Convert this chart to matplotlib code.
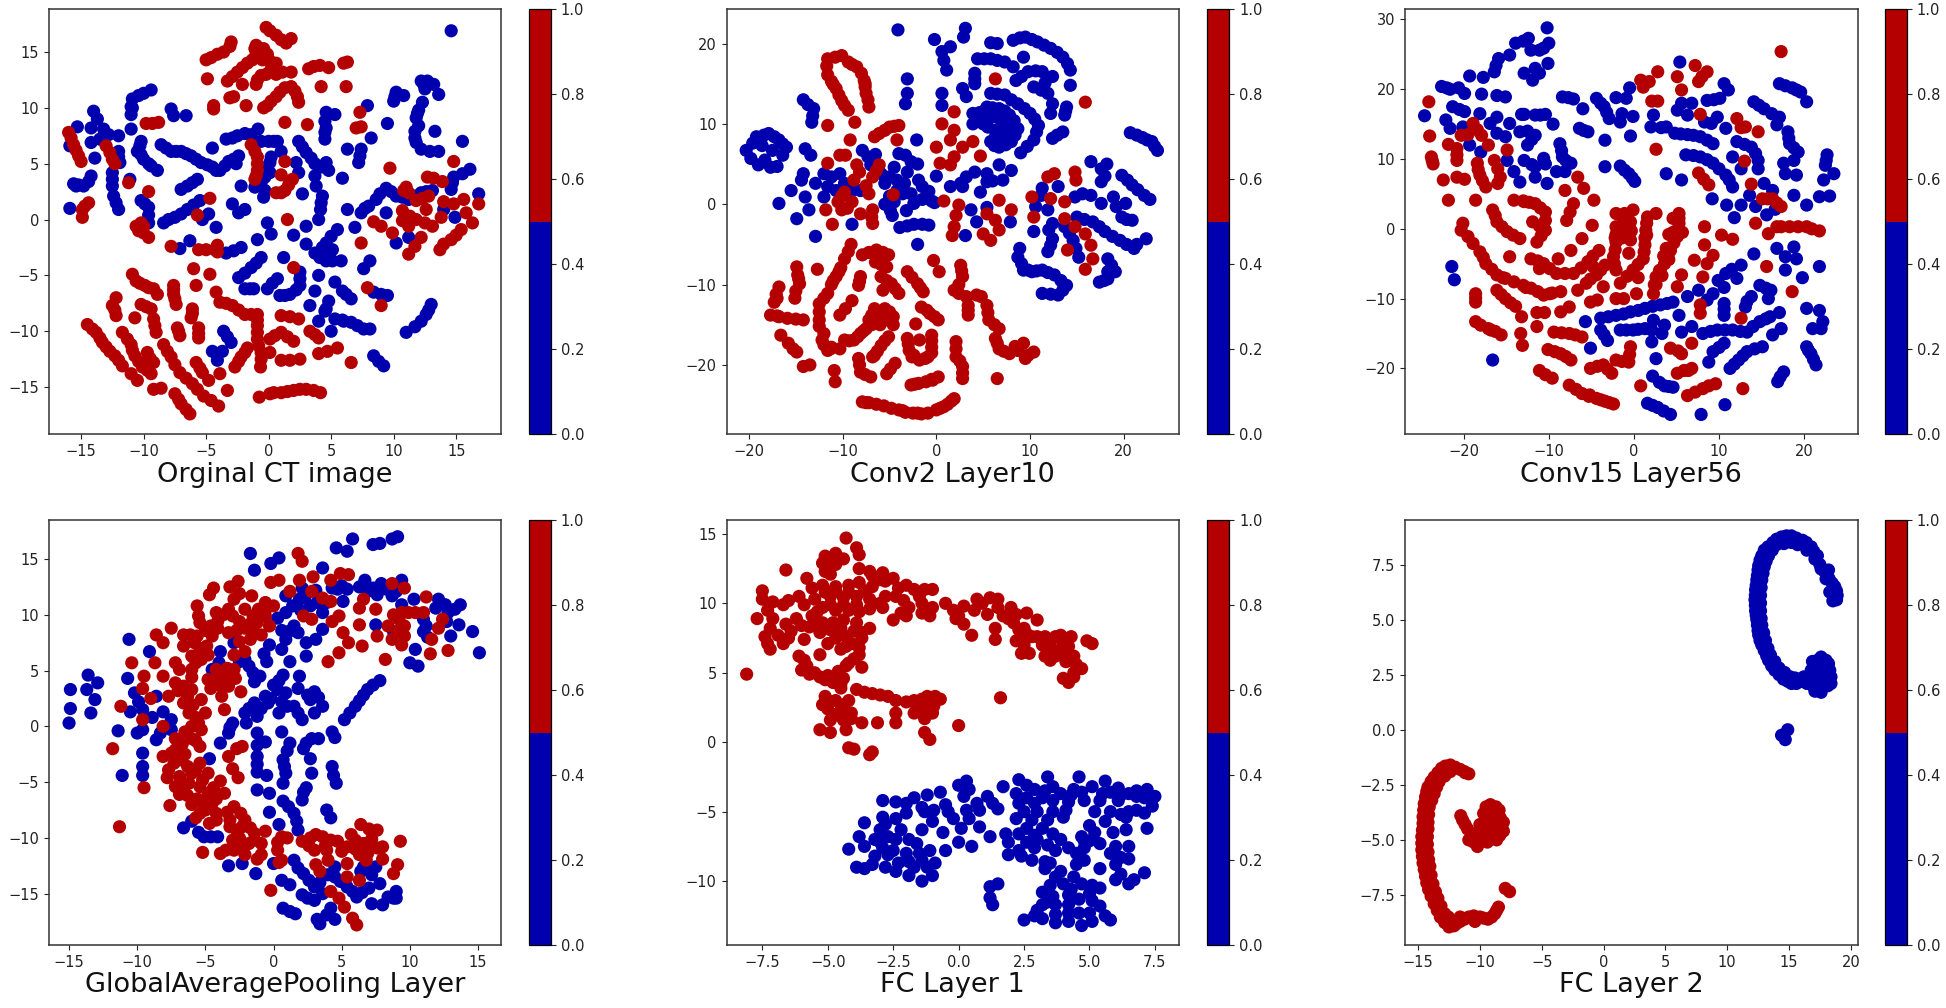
import numpy as np
import matplotlib
matplotlib.use("Agg")
import matplotlib.pyplot as plt
from matplotlib.colors import ListedColormap
from matplotlib.cm import ScalarMappable
from matplotlib.colors import Normalize

TITLES = ["Orginal CT image", "Conv2 Layer10", "Conv15 Layer56",
          "GlobalAveragePooling Layer", "FC Layer 1", "FC Layer 2"]
CLASS_COLORS = ["#0000AE", "#B40000"]

P1_BLUE = [(14.6,16.9),(-15.9,1),(-15.9,6.6),(-15.3,8.3),(-14,9.7),(-13.7,9),(-13.2,8.1),(-14.2,8.2),(-14.2,6.9),(-13.5,7.2),(-12.8,7.6),(-12,7.5),(-13.9,5.5),
(-15.6,3.2),(-15.2,3.1),(-14.8,3),(-14.4,3.4),(-14.2,3.9),(-12,6.1),(-11.9,5.1),(-12,5.6),(-12.5,4.2),(-12.5,3.6),(-12.5,3),(-12.4,2.1),(-12.2,1.5),(-12,.9),(-11.1,3.6),
(-11,9.4),(-10.9,10.8),(-10.4,11.1),(-10,11.3),(-9.4,11.6),(-11,8.1),(-7.8,9.9),(-7.6,9.3),(-6.6,9.3),(-10.2,7),(-10.5,6.1),(-10,5.4),(-9.4,4.8),(-8.9,4.4),
(-8.6,6.7),(-8.2,6.4),(-7.8,6.1),(-7,6.1),(-6.6,5.9),(-6.2,5.7),(-5.8,5.4),(-5.4,5.1),(-4.9,4.9),(-4.5,4.7),(-3.9,4.4),(-3.5,4.8),(-3.2,5.2),(-2.8,5.4),(-2.4,5.7),(-2.6,5),
(-7,2.7),(-6.5,3),(-6.1,3.3),(-5.7,3.6),(-4.5,6.4),(-3.4,7.2),(-2.9,7.3),(-2.5,7.5),(-1.9,7.7),(-.85,8.1),(-.6,7),(0,7),(.7,7),(1,6.1),
(.1,5.1),(.1,4.2),(-.3,3.8),(-.6,3.3),(-.4,2),(-2.2,3),(-1.1,2.9),(2.4,7),(2.7,6.5),(3,6),(3.4,5.5),(3.7,5),(2.2,5.1),(2.4,4.2),(3.7,3.9),(3.8,3),(4.6,5.1),(4.8,4.4),(4.2,4.7),
(4.5,7.2),(4.6,8.2),(4.6,9.6),(5.3,9.4),(6.3,6.3),(7.4,6.3),(7.2,5.1),(7.3,5.7),(8.2,7.3),(7.9,10.2),(5.9,3.7),(2.7,2.3),(4.3,2.1),(4.15,.9),(4.2,1.5),(9.5,8.6),
(10,10.6),(10.2,11.4),(10.8,11.1),(12.2,12.4),(12.7,12.4),(13.2,12.1),(13.6,11.2),(12.5,11.7),(12.3,10.5),(11.8,9.1),(12,9.8),(11.7,7.9),(11.8,6.9),(12.2,6.3),(12.9,6.1),(13.6,6.1),(13.3,7.9),(15.5,7),
(14.8,3.8),(15.5,4.1),(16.1,4.5),(14.6,2.7),(16.8,2.3),(7.4,.6),(8,1.2),(8.6,1.8),(9.4,2.8),(10.2,2.1),(11.2,1.8),(12.2,2.4),(13.1,2.6),(9.4,.6),(14,.9),(14.9,.2),
(6.3,.9),(6.9,-.7),(10.2,-2.1),(11.2,-1.6),(-.1,-.3),(.2,-1.3),(-.9,-1.8),(2,-1.4),(3,-.6),(4,0),(3,-2.2),(3.7,-3),(4.6,-3.7),(5.8,-3.7),(4.6,-2.1),(5.5,-.9),(5,-1.5),(4.3,-2.5),(5.1,-2.7),
(8.1,-3.7),(7.6,-4.4),(-2.2,-2.5),(-2.8,-2.8),(-3.4,-3),(-7.1,-2.6),(-6.3,-1.9),(-10.2,1.7),(-9.6,1.1),(-9.6,-.3),(-9.6,.4),(-8.4,-.3),(-7.5,.2),(-8,0),(-6.5,.9),(-7,.5),(-6,1.3),(-5.5,1.7),(-4.8,.5),(-5.3,0),(-4.2,-.7),
(-2.9,1.4),(-2.4,.6),(-1.9,.9),(-.6,-3.4),(-1,-3.9),(-1.4,-4.3),(-1.9,-4.8),(-2.4,-5.2),(1.2,-3.4),(4,-5),(2.5,-4.7),(2.5,-5.3),(2.5,-5.9),(1.7,-6.7),(.9,-6.8),(.7,-5.3),(-.1,-6.2),(.3,-5.7),(-1.2,-6.2),(-1.9,-6.2),
(5.3,-5.6),(5.9,-6.4),(6.6,-7.1),(3.7,-6.4),(3.3,-7.7),(4.8,-7.3),(4.5,-8.2),(4,-9.1),(5.3,-8.9),(6,-9.1),(6.6,-9.2),(7.6,-9.8),(8.1,-9.8),(5,-10),(8.4,-6.5),(9.5,-6.8),(9,-6.7),
(13,-7.6),(12.6,-8.5),(12.2,-9.1),(11,-10.1),(8.4,-12.2),(8.8,-12.7),(9.2,-13.1),(-3.6,-10),(-3,-11),(-4.5,-11.8),(-3.7,-11.8),(-4.1,-12.6),
(-15.4,3),(-9.6,5),(-10.3,6.6),(-10.2,5.8),(-7.4,6.1),(-11,10.1),(-10.9,10),(-4.2,4.4),(-1.4,7.6),(.4,7),(-.1,4.7),(.2,5.6),(-.3,2.6),(4.5,7.8),(4.5,8.8),(10.1,11),(11.9,9.5),(12.4,12.1),(12,8.4),(11.7,7.3),(14.7,3.3),(8.9,2.3),(9.8,2.5),(10.7,2),(11.7,2.1),(12.6,2.5),(7.7,1),(-9.9,1.4),(4.1,-3.4),(5.1,-3.7),(4.9,-2.9),(-1.5,-6.2),(2.2,-6.3),(1.3,-6.8),(6.2,-6.7),(4.6,-8),(5.9,-9),(7.1,-9.5),(12.8,-8.1),(11.7,-9.6),(-3.3,-10.5)]

P1_RED = [(-.2,17.2),(.1,16.9),(.6,16.5),(1,16.1),(1.4,15.8),(1.8,16.2),(-5,14.3),(-4.6,14.5),(-4.1,14.8),(-3.6,15),(-3.1,15.5),(-3,15.9),(-4.9,12.6),
(-3.3,12.4),(-2.9,12.8),(-2.5,13.2),(-2.1,13.6),(-1.7,14),(-1.3,14.3),(-1,14.8),(-1.1,15.3),(-1,15.6),(-.4,15.3),(-.1,14.8),(-.5,14.3),(.1,14.2),(.6,14),(.2,13.5),(.6,13),(1.1,13.2),(1.8,13.2),
(-.9,12.5),(-.6,12.9),(-.2,13),(-2.1,12.1),(-1,12.1),(-3.1,10.9),(-2.8,11),(-1.8,10.2),(-4.4,9.9),(-4.4,10.2),(-.4,10),(-.1,10.2),(.2,10.6),(.6,11),(.9,11.4),(1.3,11.8),(1.8,11.9),(2.1,11.5),(2.3,11),(2.4,10.5),
(3.2,13.5),(3.6,13.7),(4.1,13.8),(4.8,13.6),(6.3,14.1),(6,14),(4.2,11.9),(6.2,11.9),(1.3,8.7),(3.1,8.5),(7.3,9.6),(7,8.2),(7.4,8.3),
(-16,7.8),(-15.8,7.3),(-15.6,6.7),(-15.4,6.2),(-15.2,5.7),(-15,5.2),(-13,6.6),(-12.7,6),(-12.5,5.4),(-12.3,5),(-9.8,8.6),(-9.3,8.6),(-8.8,8.7),(-11.2,3.3),(-9.6,2.5),(-14.4,1.5),(-14.7,1.2),(-14.9,.9),(-14.9,.2),
(-10.6,-.6),(-10.2,-.3),(-10,-.6),(-10.4,-1),(-10,-1.2),(-9.6,-1.6),(-5.7,.4),(-4.7,1.9),(-7.8,-2.4),(-5.6,-2.7),(-5,-2.7),(-4.3,-2.7),(-4.1,-2.3),(-4.1,-2.9),
(-1.4,6.7),(-1.1,6.1),(-.9,5.6),(-.9,5),(-.9,4.4),(-1,3.9),(-1.1,3.6),(1.3,5.2),(1,4),(1.9,3.6),(1.6,3.1),(1.3,2.6),(1,2.4),(.6,2.4),(1.5,0),(9.7,4.6),(14.8,5.2),
(11,2.9),(10.8,2.6),(11.2,2.4),(12.7,3.8),(13.2,3.7),(13.9,3.4),(11.8,1.7),(12.8,2.1),(12.3,1.9),(14,1.6),(14.8,1.4),(15.6,1.8),(16.8,1.4),(15.8,.6),(16.3,-.3),(15.4,-.9),(14.6,-1.8),(15,-1.4),(13.7,-2.7),(14,-2.2),
(8.4,-.2),(9,-.6),(9.9,-1.2),(10.7,.8),(10.7,-.1),(11.2,-.6),(11.8,0),(12.6,.9),(12.5,-.3),(13.1,-.6),(13.8,.2),(12.2,-1.6),(11.7,-2.4),(11.2,-3.1),(11.3,.3),(7.4,-2.1),(2,-4.3),(7.9,-6.1),(9,-7.7),
(-10.9,-4.9),(-10.6,-5.5),(-9.9,-5.9),(-9.2,-6.2),(-8.9,-6.7),(-12.2,-7),(-12.5,-7.7),(-12.2,-8.6),(-10.7,-8.8),(-10.2,-7.6),(-9.4,-8),(-9.2,-8.9),(-9,-10.1),(-9.1,-9.5),
(-7.6,-5.9),(-7.6,-6.7),(-7.4,-7.6),(-6.1,-8),(-6.2,-8.8),(-7.3,-9.7),(-7.1,-10.4),(-5.6,-9.7),(-5.6,-10.6),(-6,-4.4),(-4.7,-4.9),(-5.8,-5.9),
(-14.5,-9.4),(-14.1,-9.8),(-13.8,-10.1),(-13.5,-10.6),(-13.3,-11),(-13,-11.4),(-12.7,-11.8),(-12.3,-12.2),(-12,-12.6),(-11.7,-13.1),(-11,-13.8),(-10.5,-14.4),
(-11.7,-10.1),(-11.3,-10.7),(-11,-11.2),(-10.9,-11.7),(-10.7,-12.2),(-10.4,-12.7),(-10.1,-13.2),(-9.7,-13.5),(-9.4,-13.8),(-9.2,-12.8),(-9.7,-11.9),(-9.5,-12.4),
(-8.4,-11.2),(-8.1,-11.8),(-7.8,-12.3),(-7.5,-13),(-7.1,-13.7),(-6.6,-14.2),(-6.1,-14.7),(-5.7,-15.2),(-5.2,-15.8),(-4.6,-16.2),(-4,-16.7),(-9.2,-15.2),(-8.6,-15.1),(-7.5,-15.6),(-7.2,-16.1),(-7,-16.5),(-6.6,-17),(-6.3,-17.4),
(-5.8,-12.8),(-5.5,-13.3),(-5.3,-13.7),(-4.8,-14.4),(-3.9,-13.8),(-3.3,-15.3),(-2.7,-13.2),(-2.4,-12.7),(-2.2,-12.3),(-1.9,-11.9),(-1.7,-11.5),
(-4.2,-6.5),(-3.9,-7.4),(-2.9,-7.7),(-2.4,-8.1),(-1.9,-8.5),(-.9,-8.5),(-.9,-9.5),(-.9,-10.7),(-.8,-11.3),(-.6,-11.9),(-.65,-13.2),(-.6,-12.5),(.1,-11.9),(.1,-10.7),(.5,-10.4),(1,-10.1),(1.5,-10.5),(2,-10.9),
(1,-8.6),(1.7,-8.7),(2.4,-8.9),(3.3,-10),(3.7,-10.3),(4,-10.6),(1,-12.6),(1.7,-12.6),(2.5,-12.5),(4,-12),(4.7,-11.8),(5.5,-11.5),(6.6,-12.8),(-.75,-15.9),(.1,-15.6),(1,-15.5),(1.5,-15.4),(2,-15.3),(3,-15.2),(3.6,-15.3),(4.15,-15.5),
(-3.4,-7.5),(-1.4,-8.5),(-.9,-9),(-.9,-10.1),(-7.6,-6.3),(-7.5,-7.1),(-6.1,-8.4),(-9.6,-6.1),(-10.3,-5.7),(-12.3,-8.1),(-9.8,-7.8),(-7.2,-10),(-5.6,-10.2),(.4,-15.5),(2.5,-15.2)]

P2_BLUE = [(-4.1,21.7),(-.2,20.5),(3.1,21.9),(2.9,20.8),(.6,19),(1.5,19.6),(.8,17.9),(1.1,16.7),(5.8,20.1),(6.5,20),(8.2,20.4),(9.5,20.8),(10.8,20.2),(12.2,19.4),(13.5,18.3),(14,17.5),(14.3,16.7),(14.3,14.8),
(4.4,18.1),(5.8,18.1),(6.5,17.9),(7.3,17.7),(8.2,17.1),(9.3,18.3),(4.1,16.3),(4.1,15),(8.5,15.4),(9.8,16.5),(11.3,16.5),(12.4,15.9),(10.4,14.6),(11.2,14.2),(11.9,13.8),(12.4,12.5),
(2.8,14.4),(3.2,13.4),(.6,13.8),(.6,12.3),(5.8,13.8),(7.3,13.6),(8.7,12.5),(10,11.3),(10.9,9.8),(10.4,8),(9,6.4),(13.9,12.1),(13.7,11.1),(12.2,11.3),(13.5,9),(12.4,8.2),
(3.9,11.3),(3.9,10),(5.4,12.1),(6.7,11.9),(7.8,11.1),(8.7,9.4),(8,7.8),(6.7,7.1),(5.8,7.8),(5.4,10.7),(6.7,10.7),(7.6,9.4),(6.9,8.6),(5,10),(6.3,9.2),(4.6,11.4),(8.3,10.4),(8.4,8.6),
(-3.1,15.6),(-3.1,13.8),(-3.3,12.5),(-14.2,13),(-13.1,11.9),(-13.3,10.2),(-20.3,6.7),(-19.2,8.4),(-17.9,8.8),(-16.8,8),(-16,7.1),(-16.4,6.1),(-18.6,7.3),(-17.5,6.7),(-19,4.9),(-17.7,4.6),(-17,4.7),(-14,6.9),(-13.4,6.1),
(-16.8,.1),(-15.5,1.7),(-14.9,-1.8),(-12.9,-4),(-14.2,3.8),(-14.4,3),(-14,.9),(-13.6,-.7),
(-12.9,2.6),(-12,3.8),(-11.2,3.4),(-10.3,3.8),(-11.6,2.2),(-10.7,1.7),(-12,.9),(-9.8,2.6),(-9,1.7),(-8.1,1.7),(-7.9,6.7),(-7.3,5.9),(-6.5,6.2),(-7,4.9),
(-5.9,3.8),(-5.5,2.6),(-5,3.4),(-4.5,4.6),(-4.2,3),(-4.2,1.7),(-5,1),(-5.5,0),(-4.9,-.8),(-4.5,.3),(-3.6,1.3),(-3.4,2.6),(-3.1,4),(-2.7,5.3),(-3.3,6.1),(-4,6.3),(-2,5),(-1.9,3),(-1.5,2.2),(-2.7,1.3),(-2.4,.1),(-1.5,.6),(-.8,1.6),(-.5,.4),(-.2,.2),(-3.2,-.8),(-4.7,-1.4),
(-3.9,-2.9),(-3.1,-2.7),(-2.4,-2.5),(-1.5,-2.5),(-.8,-2.6),(-9,-2.5),(-2,-5),(-2.1,8),(0,3.5),
(1.5,2.2),(2.6,2.6),(3.2,3.4),(4.1,4),(2.8,2.2),(5.4,3.8),(5.4,2.8),(4.7,1.5),(6.7,4.9),(8,4.2),(7.1,3),(6,2.9),(3.7,-.7),(4.3,-2.2),(3.1,-3.9),(7.9,-2.2),(5.4,-.4),
(16.5,5.3),(17.6,4.4),(17.6,2.8),(15.6,1.3),(14.8,.9),(19.8,3.6),(20.9,2.4),(21.5,1.8),(22.2,1.1),(22.8,.6),(20.7,8.9),(22,8.3),(23,7.8),(23.6,6.7),
(17.6,.1),(18.9,.9),(20.2,.1),(19.8,-1.6),(20.9,-2),(15,-1.6),(16.7,-2.2),(18,-3.4),(18.8,-4),(19.6,-4.5),(21.1,-5.5),(22.4,-4.3),
(11.3,2),(13,2.2),(10.6,-.3),(11.9,-.7),(12.4,-2.4),(10.4,-3.4),(12.4,-4.3),(11.9,-5.9),(13.7,-2.8),(14.6,-4.5),(15.2,-6.6),(8.9,-5.5),(8.7,-6.6),(9.3,-8.2),(11.3,-8.2),(10.2,-8.4),(12.6,-8.8),(13.9,-10.1),(13,-11.3),(11.3,-11.1),(18.3,-6.8),(19.1,-8.4),(17.4,-9.7),(18.3,-9.3),
(4.4,10.7),(5.1,11.6),(6,12),(7.3,11.6),(8.3,9.9),(7.9,8.5),(7.4,7.4),(6.2,7.3),(6.1,10.9),(7.2,10.1),(7.4,8.9),(6.3,8.4),(5.5,9.6),(9.4,11.9),(10.5,10.6),(10.7,9),(9.7,7.2),(6.5,13.7),(8,13),(11.6,15.1),(10.6,16.6),(9.1,15.9),(5.1,18.1),(8.9,20.7),(10.2,20.5),(11.5,19.8),(12.9,18.9),(4.1,15.6),(13.8,11.6),(12.9,8.6),(-18.4,8.6),(-17.3,8.4),(-16.4,7.5),(-13.7,12.4),(-13.2,11),(-19.6,7.6),(-19.8,5.7),(-18.3,5.5),
(18.2,5),(18,3.5),(16.5,1.1),(20.4,3),(21.4,8.6),(22.5,8),(23.3,7.2),(21.4,-5),(20.3,-5),(17.4,-2.8),(15.8,-1.9),(20.3,-1.9),(9.1,-7.4),(9.8,-8.2),(10.7,-8.3),(11.9,-8.5),(13.3,-9.5),(12.2,-11.2),(13.5,-10.7),(18.7,-7.6),(17.9,-9.5),(12,-3.2),(11.2,1.1),(12.2,-5.1),(14.2,-3.6),(14.9,-5.5),(18.3,-8.4),(19.2,-.3)]

P2_RED = [(-11.6,18.1),(-10.1,18.5),(-8.5,17.1),(-9.4,17.7),(-11.6,16.1),(-11.2,15.3),(-10.7,14.4),(-10.1,12.9),(-9.8,12.3),(-9.4,11.7),(-7.7,15.4),(-7.5,13.8),(-7.2,12.1),(-7.6,14.6),(-7.3,13),
(-11.6,9.8),(-8.7,10.2),(-9.2,8),(-6.1,8.8),(-5,9.6),(-4,9.8),(-4.2,8),(-10.3,6.1),(-11.6,5.1),(-8.5,4.9),(-8.8,3),(-6.1,4.9),(-6.8,3.4),(-7.2,1.3),(-4.6,1.2),
(-9.8,1.5),(-10.5,.3),(-11.8,-.7),(-9,.3),(-8.1,-1.2),(-6.8,-.7),(-6.8,-2.4),(-11.1,-2.5),(-10.1,-.7),(.6,10),(1.9,11.5),(1.9,9.2),(1.5,8),(0,7.1),(3.9,7.8),(2.8,7.1),(1.9,5.9),(.4,5.1),(1.5,4.9),(4.7,6),
(6.3,15.6),(15.9,12.7),(11.9,3.4),(12.6,3.8),(14.8,4),(14.9,3),(10.2,.9),(12.2,.7),(13.7,.3),(10.4,-1.6),(13.7,-1.8),(14.8,-2.8),(15.9,-3.7),(16.5,-5.1),(14,-5.7),(16.7,-6.8),(15.9,-8.1),
(.8,.4),(2.4,-.1),(2.1,-1.4),(1.9,-2.8),(1.7,-3.9),(6.7,.5),(8,-.7),(5.4,-1.2),(6.3,-2),(6.7,-3.2),(5.8,-4.5),(5,-3.7),
(-9.1,-5),(-9.8,-6.8),(-10.2,-7.9),(-10.7,-9),(-11.2,-10),(-11.6,-11.1),(-12.5,-12.4),(-12.5,-14.4),(-12.5,-13.4),(-12,-16.1),(-11.2,-17.8),(-7.9,-6.3),(-6.4,-5.7),(-5.1,-6.3),(-6.5,-7.2),(-5.3,-7.8),(-8.1,-9),(-8.3,-10.1),
(-5.9,-9),(-4.8,-9.9),(-4,-11.1),(-5.7,-10.7),(-3.1,-8.4),(-2,-9.9),(-1.4,-10.9),(-.3,-7),(.3,-8.4),(2.6,-7.6),(2.8,-9),(1.9,-10.7),(3.2,-11.5),(4.3,-11.3),(3.4,-13.8),(3.4,-12.6),(2.4,-10),
(5.4,-12.6),(5.6,-14.4),(6.7,-15.5),(6.3,-16.7),(6.7,-18),(7.8,-18.6),(9.3,-17.3),(9.5,-19.2),(10.4,-18.4),(8.4,-17.7),(-1.6,-12.8),(.2,-14.4),(-2.2,-14.9),(-.7,-13.6),
(-14.9,-7.8),(-14.6,-9.9),(-15.1,-11.7),(-12.7,-8.1),(-14.8,-8.8),(-16.8,-10.3),(-17.3,-12.2),(-17.7,-13.8),(-16.8,-14),(-15.9,-14.2),(-15,-14.3),(-14.2,-14.4),(-17.1,-11.2),
(-16.6,-16.3),(-15.3,-18),(-14.2,-20.2),(-13.5,-20),(-10.9,-20.7),(-10.8,-22.1),(-10.3,-13.8),(-9,-12),(-9.7,-13),
(-6.6,-13),(-5.5,-13),(-4.6,-14),(-7.2,-14.4),(-8.1,-16.1),(-6.4,-14.4),(-5.5,-14.4),(-7.5,-15.5),(-8.8,-16.9),(-9.8,-16.9),(-12.2,-16.9),(-11.3,-18),(-10.3,-18),(-4.6,-15),
(-5.1,-16.5),(-5.9,-17.6),(-6.8,-19),(-6.3,-18.3),(-8.3,-19.2),(-8.1,-20.9),(-7,-21.5),(-4.4,-19.8),(-5.3,-21.1),(-3.1,-16.7),(-2.9,-18.2),(-1.8,-19.4),(-.5,-17.8),(-.5,-16.3),(-1.8,-16.9),(-.9,-19),(-2.6,-19),
(2.1,-17.1),(2.1,-19),(2.8,-20.2),(2.8,-21.7),(2.1,-18),(6.5,-21.7),(-2.7,-22.5),(-1.9,-22.3),(-1.1,-22.1),(.2,-21.5),(-.5,-21.8),(-7.9,-24.6),(-7.2,-24.7),(-6.4,-24.9),
(-4.8,-25.4),(-4,-25.6),(-3.3,-25.9),(-2.5,-26),(-1.6,-26.1),(.4,-25.4),(1.2,-24.9),(1.9,-24.2),
(-10.8,18.3),(-11.7,17.2),(-8,16.3),(-9,17.4),(-11,14.9),(-10.4,13.6),(-7.6,15),(-5.5,9.2),(-4.5,9.7),(-6.6,8.4),(-9.7,6.1),(-7.5,2.3),(-8.2,4),(-6.4,4.2),(-10.1,1),(-9.5,-.5),(-6.9,-1.6),(-9.4,-5.9),(-10.4,-8.4),(-11,-9.5),(-12,-11.7),(-12.5,-15.2),(-7.2,-6),(-5.7,-6),(-5.9,-7.5),(-8.2,-9.6),(-5.3,-9.5),(-4.4,-10.5),(-2.6,-9.1),(-1.7,-10.4),(2.7,-8.3),(2.4,-11.1),(3.4,-13.2),(4.8,-11.5),(5.5,-13.5),(6.2,-15),(6.5,-17.3),(7.2,-18.3),(8.7,-18.2),(9.8,-18.8),(-1,-13.2),(-.2,-14),(-17,-13.9),(-14.7,-9.3),(-15,-10.8),(-17,-11.7),(-15.8,-17.3),(-14.9,-18.4),(-6,-13.7),(-5,-13.4),(-6.9,-13.8),(-7.8,-15.8),(-8.4,-16.5),(-9.3,-17),(-6.9,-15),(-6,-15),(-12,-17.5),(-11.6,-18.2),(-5.5,-17),(-6.6,-18.8),(-8.2,-20),(-7.6,-21.2),(-4.9,-20.5),(-3,-17.4),(-2.4,-18.8),(-1.2,-19.2),(-.5,-17),(-.5,-18.5),(2.5,-19.5),(2.8,-21),(-2.3,-22.4),(-.4,-21.9),(-7.5,-24.7),(-5.6,-25.1),(-3.6,-25.7),(-2,-26),(-.9,-26),(.8,-25.2),(1.6,-24.5),(0,-25.6)]

P3_BLUE = [(-10.2,28.8),(-10,26.6),(-12.4,27.3),(-13.9,26.6),(-12.1,25.6),(-11.1,25.6),(-14.6,24.9),(-15.9,24.4),(-16.2,23.4),(-16.4,22.5),(-10.1,23.7),(-11.6,23),(-12.9,22.3),(-11.9,21.3),(-11.1,22.3),(-13,26.9),(-10.6,25.9),
(-19.3,21.9),(-17.7,21.7),(-22.6,20.4),(-21.6,20),(-20.6,20.2),(-19.9,19.4),(-17.9,19.3),(-16.1,19.1),(-15.1,18.9),(-24.6,16.2),(-21.3,17.5),(-20.5,17.1),(-19.9,16.8),(-22.1,15.6),(-21.6,14.4),(-20.1,14.6),(-18.1,16.5),(-16.1,16),(-16.9,15.1),
(-14.6,15.1),(-15.1,13.2),(-16.1,13.7),(-14.9,9.8),(-14.1,8.2),(-13.4,6.7),(-19.3,12),(-18,11),(-12.9,16.4),(-11.6,16.3),(-10.4,16.4),(-9.5,15),
(-13.4,13.9),(-11.6,13.4),(-12.5,12),(-12.9,9.8),(-11.6,8.9),(-11.6,7.4),(-10.2,6.5),(-10.6,10.1),(-10.4,9.3),(-8.7,12.2),(-8.4,10.3),(-7.4,9.4),(-9.1,8.2),(-8.1,8.2),
(-8.4,18.9),(-7.1,18.6),(-6,17.2),(-4.4,18.7),(-3.5,17.5),(-2.9,15.8),(-2.1,18.8),(-.9,18.7),(-.5,20.2),(-1.4,16.5),(-.1,16.1),(-1.6,15.3),(-6.4,14.4),(-5.4,13.9),(-3.4,12.7),(-.4,13.3),(-3.4,8.9),(-1.6,9),(-.6,7.9),(.1,6.8),
(2.3,16.3),(2,14.6),(3.8,14.6),(4.8,13.7),(6.3,13.5),(7.8,13.2),(9.3,12.2),(8.6,12.7),(5.4,23.9),(5.1,17),(5.6,18),(6.8,18),(6.3,16.3),(10.6,20.8),(11.1,19.9),(10.1,18.7),(8.6,18.4),(9.4,18.5),
(8.3,15.3),(9.8,16),(9.1,15.1),(10.8,14.4),(6.1,10.6),(7.8,10.3),(9.3,9.4),(10.8,7.7),(11.6,6),(11.2,7),(3.8,7.9),(5.6,7),(9.2,4.3),(10.9,3.4),(11.8,1.6),
(12.1,12.5),(13.8,11.7),(14.6,9.8),(14.6,8.6),(11.6,10.3),(12.6,8.6),(14.1,18.2),(15.3,17.2),(17.1,16),(16.8,14.9),(16.2,16.5),(17.1,20.8),(18.6,20.2),(19.6,19.6),(20.3,18.2),
(18.1,13.9),(18.3,12.2),(19.3,11),(18.8,9.8),(17.6,9.4),(17.8,7.9),(19.1,7.7),(22.7,10.6),(22.5,9.1),(23.5,7.9),(22.3,7),(15.3,6.5),(16.3,5.5),(13.6,4.8),(12.6,3.4),(14.3,3.2),(15.6,2),(16.6,2.8),
(18.8,4.8),(20.3,3.4),(21.8,4.6),(23,4.7),(-21.4,-5.4),(-21.1,-7.3),(-16.6,-18.8),(16.8,-2.8),(18.8,-2.6),(19.1,-4.3),(17.8,-4),(17.8,-5.9),(14.1,-3.6),(21.8,-5.4),(19.8,-7),
(12.6,-5.2),(10.8,-6.4),(12.1,-7.1),(10.6,-8.4),(9.3,-9.3),(8.6,-10.2),(14.8,-8.1),(16.1,-8.8),(15.8,-10),(13.8,-9.7),(13.1,-11.2),(10.6,-10.7),(10.6,-12.4),(6.3,-9.7),(7.6,-8.8),
(-3.9,-12.8),(-3,-12.6),(-2.1,-12.4),(-1.2,-12.2),(-.4,-11.9),(.5,-11.7),(1.3,-11.4),(2.2,-11.1),(3.1,-10.9),(3.9,-10.7),(4.6,-10.5),(-5.7,-13.3),(-3.9,-14.5),(-3.1,-16),(-5.1,-17.1),
(-1.6,-14.5),(-.1,-14.5),(1.3,-14.3),(2.3,-13.1),(3.6,-13.8),(3.3,-15),(2.1,-16.2),(2.1,-14.5),(5.3,-12.4),(5.6,-14.8),(6.8,-14),(8.1,-15),(9.8,-14.5),(11.6,-14.5),(13.3,-14.8),(14.8,-13.3),(17.1,-12),(16,-12.6),
(16.3,-15.2),(17.3,-14.3),(20.3,-11.4),(21.8,-11.7),(22.2,-13.3),(21,-14.3),(22,-14.3),(20.3,-16.9),(20.8,-17.9),(21.4,-19.5),(17.6,-20.5),(16.9,-21.9),
(10.6,-16.4),(9.3,-17.6),(8.8,-19.1),(15.1,-16.9),(13.3,-17.6),(12.3,-18.8),(11.3,-20),(2.6,-18.6),(2.2,-21.1),(3.6,-22.5),(4.6,-22.7),(1.6,-25),(2.8,-25.6),(4.3,-26.6),(7.9,-26.6),(10.7,-25.2),
(-22,20.2),(-13.2,16.4),(-11,16.3),(-12.5,14),(-12,12.8),(-12,9.2),(-8.5,11.2),(-8,9.8),(-7.7,18.8),(-3.9,18),(-3.2,16.7),(-5.9,14.1),(-1.1,8.4),(-.2,7.3),(3.2,14.5),(5.5,13.6),(7,13.4),(7,10.5),(8.6,9.9),(10,8.6),(13,12.1),(14.3,10.8),(14.7,17.7),(17.8,20.5),(19.1,19.9),(18.2,13),(18.8,11.6),(22.6,9.8),(9.9,-7.4),(11.5,-5.8),(13.3,-10.4),(15.5,-8.5),(10.6,-11.5),(-3.5,-15.2),(9,-14.7),(10.7,-14.5),(12.5,-14.7),(14,-14),(15.5,-12.9),(20.5,-17.4),(21.1,-18.7),(10,-17),(14.2,-17.2),(12.8,-18.2),(11.8,-19.4),(.5,-14.4),(-.9,-14.5),(2.2,-25.3),(3.5,-26.1),(3,-22),(4.1,-22.6),(17.2,-21.2)]

P3_RED = [(-24.1,18.2),(-24,13.3),(-23.8,10.3),(-23.6,9.3),(-22.4,7),(-21.8,12.1),(-20.8,11.5),(-20.8,9.8),(-20.8,7.4),(-19.9,7.1),(-20.3,13.4),(-18.9,15.1),(-17.9,13.4),(-17.1,12),(-14.9,11.3),(-19.5,13.5),(-18.4,14.2),
(-18.4,9.4),(-18.1,7.7),(-17.4,6),(-16.4,9.8),(-15.7,7.4),(-16,8.6),(-21.8,4.1),(-18.6,4.1),(-16.6,2.7),(-16.1,1),(-14.9,-.4),(-13.4,-1.4),(-14.1,4.1),(-13,4),(-11.6,3.6),(-10.4,2.4),(-11.9,1),(-10.4,-.2),(-11.4,-1.9),(-10.4,1.2),
(-8.1,5.5),(-7.1,3.6),(-7.9,1.2),(-7.5,2.4),(-6.6,7.4),(-5.9,5.8),(-4.7,4.1),(-20.1,.8),(-20.3,-.2),(-18.9,-2.1),(-18.1,-3.3),(-17.4,-5),(-16.1,-6.6),(-14.1,-7.6),(-15.1,-7.1),(-13,-8.1),(-12.1,-8.5),(-10.6,-9.5),(-8.6,-9),(-9.6,-9.2),
(-18.6,-9.3),(-18.6,-10.5),(-16.1,-8.8),(-15.1,-10),(-13.9,-11.1),(-14.6,-4),(-12.1,-4.3),(-10.6,-5),(-8.9,-4.3),(-7.4,-3.1),(-6.1,-1.4),(-4.9,.5),(-11.1,-5.7),(-9.1,-6.4),(-7.1,-6.4),(-5.4,-4.7),(-4.1,-3.1),(-4.8,-3.9),(-5.6,-7.8),(-4.4,-6.6),(-3.4,-5.2),(-6.6,-8.8),
(-2.1,2.2),(-2.1,.3),(-2.1,-1.9),(-2.4,-4),(-2.1,-5.9),(-3.6,-8.3),(-1.1,2.2),(-1.1,.3),(-1.4,-1.3),(-.1,2.7),(-.4,1),(-.4,-1.6),(-.6,-3.5),(-2.2,-3),(1.6,1.7),(1.4,-.2),(1.3,-2.3),(1.1,-4.3),(-.1,-5.9),(-1.6,-7.8),(2.6,2.2),(.5,-7),(1.5,-.9),
(5.3,2.2),(5.3,.8),(5.1,-1.1),(4.3,-3.1),(3.6,-5),(2.6,-6.9),(2.3,-9.3),(4.1,-4.4),(5.6,-6.6),(5.1,-8.3),(2.4,-8),(4.6,1.5),(4.6,-.5),(3.8,-2.8),(3,-6),(7.1,-4.5),(8.1,-6.9),(8.3,.3),(10.3,-.9),(11.6,-1.5),(8.3,-2.3),(9.3,-3.8),(8.6,-5),(7.6,8),(8.8,6.3),(8.2,7.1),
(17.3,25.4),(7.2,23.4),(8.6,22.5),(7.6,21.1),(8,21.8),(5.1,21.8),(5.6,19.9),(.8,21.3),(1.8,21.1),(2.8,22.5),(1.1,20.3),(2.1,18.3),(2.8,18.3),(7.8,16.4),(2.6,11.4),(12.1,15.8),(13.1,14.6),(14.6,13.9),(12.6,14.5),
(13,9.7),(13.8,6.4),(15.1,4.3),(16.3,4.3),(17.3,3.2),(14.3,.8),(15.8,-.7),(16.8,.3),(18.3,.3),(20.3,.3),(21.8,-.3),(20.9,0),(15.6,-5.4),(18.6,-9),(7.8,-10.9),(7.8,-12.1),(12.6,-12.8),
(-2.1,-10),(-1.2,-10),(.3,-9.3),(-5.1,-10.5),(-4.3,-10.2),(-8.6,-11.9),(-7.6,-11.2),(-11.4,-12),(-10.5,-12),(-13.2,-12.6),(-11.4,-14),(-18.6,-13.3),(-17.1,-14.3),(-15.6,-15.2),(-16.3,-14.7),(-13.1,-16.7),
(-9.4,-14.8),(-7.6,-15),(-6.1,-15.5),(-10.1,-17.3),(-8.6,-17.9),(-7.4,-18.8),(-11.1,-20.3),(-9.6,-21.4),(-10.4,-20.9),(-7.6,-22.4),(-6.8,-23),(-6.1,-23.6),(-4.4,-24.3),(-5.3,-24),(-3.4,-24.7),(-2.4,-25.1),
(-5.1,-20),(-3.6,-19.5),(-2.6,-20.7),(-2.1,-18.8),(-.6,-19.1),(-.4,-16.9),(-.5,-18),(.8,-22.5),(4.3,-17.1),(5.6,-17.9),(6.8,-16.4),(5.1,-20.7),(6.8,-20),(6.3,-23.9),(8.1,-22.9),(9.6,-22.2),(12.8,-22.9),(7.2,-23.4),
(-17.7,-4.1),(-16.7,-5.8),(-15.4,-7),(-12.7,-8.4),(-11.3,-9),(-9.9,-9.3),(-15.6,-9.4),(-14.5,-10.6),(-16.3,1.9),(-15.5,.3),(-14.2,-.9),(-12.9,3.9),(-12.3,3.8),(-11,3),(-11.1,.4),(-10.9,-1),(-11.3,-4.6),(-9.9,-5.7),(-8.1,-6.4),(-6.2,-5.6),(-4.8,-5.4),(-5.1,-7.2),(-3.9,-5.9),(-2.1,-.8),(-2.2,-1.3),(-2.3,-5),(-1.2,1.2),(-.3,-.3),(1.5,.8),(1.3,-1.3),(1.2,-3.3),(.5,-5.1),(-.8,-6.8),(5.3,1.5),(5.2,0),(4.7,-2),(4,-4),(3.1,-5.9),(2.6,-8),(5.7,-.5),(4.1,-.8),(3.5,-3.9),(3.3,-6.7),(-13.3,-15),(-8.5,-14.9),(-6.9,-15.2),(-9.3,-17.6),(-8,-18.3),(-5.2,-23.8),(-3.9,-24.5),(-2.9,-24.9),(-4.3,-19.7),(-3.1,-20.1),(-1.4,-19),(1.3,21),(-16.8,-14.5),(-18,-13.8),(-18.6,-9.9),(-19.5,-1.1),(-20.8,10.6),(-23.7,9.8),(-18.3,8.5),(-17.8,6.9),(-16,6.5),(6.4,-20.3),(5.9,-20.3),(8.8,-22.5),(5.2,-17.5),(15.7,4.3),(16.8,3.7),(19.3,.3),(17.3,.3)]

P4_BLUE = [(-14.9,3.3),(-14.9,1.6),(-15,.3),(-13.6,4.6),(-13.7,3.3),(-12.9,3.9),(-13.1,2.4),(-13.4,1.2),(-10.6,7.8),(-9.1,6.7),(-10.7,4.3),(-10.2,3),(-10.5,1.3),(-9.6,1.5),(-11.4,-.4),(-9.6,-.3),
(-11.1,-4.4),(-9.6,-2.4),(-9.6,-3.6),(-9.6,-4.4),(-8.6,-1.2),(-8.1,1.3),(-7.5,.6),(-7.5,-.3),(-8.6,2.7),(-3.9,6.7),(-2.9,7.5),(-2.1,6),(-1.5,4.8),(-1.4,4),(-.5,5.8),(-.3,7.3),(-4.5,5.1),(.6,6.9),(1.2,5.8),(2.4,6.3),
(-.2,14.6),(.4,15.1),(-1.7,15.5),(-1.4,14),(-2.1,1.2),(-1.4,2.1),(-.6,2.7),(0,3.7),(.7,4.6),(-.2,2.5),(-1.2,.9),(-2,.3),(.9,3),(.4,1.2),(1.5,1.8),(2.1,.6),(1.9,4.5),(1.8,3.4),(3,3.1),(2.7,2.4),(3.6,1.8),(3,1.2),
(4.3,-.5),(5.2,.6),(6,1.8),(6.6,2.8),(7.3,3.7),(7.8,4.1),(-3,.3),(-3.3,-.6),(-3.9,-1.5),(-4.7,-2.9),(-1.2,-.6),(-.6,-1.4),(-1.2,-2.7),(-1.2,-4.1),(-.5,-4.4),(.6,-.5),(1.2,-1.5),(.7,-3),(.9,-4.2),(.7,-5.1),
(2.2,-2),(2.8,-1.1),(3.3,-1.1),(2.7,-2.9),(2.8,-4.2),(4.3,-3.6),(4.6,-5.1),(4.4,-4.4),(-1.2,-5.7),(-.3,-6),(-.3,-7.7),(.4,-8.8),(2.4,-5.5),(2.1,-6.6),(.7,-6.7),(1.5,-7.8),(1.8,-9.3),(3.9,-7.5),(4.2,-8.2),
(-6.6,-9.1),(-6,-8.5),(-5.1,-9.9),(-4.1,-9.9),(-3.3,-12.5),(-2.3,-12.3),(-1.3,-13.2),(0,-12.3),(.6,-13.8),(1.2,-14.2),(1.5,-12),(2.2,-13.2),(2.1,-15.1),(3,-15.6),(3,-14.4),(.7,-16.3),(1.6,-16.8),(3.4,-17.7),(4.2,-16.3),(4.5,-17.3),
(4.5,-12.6),(4.5,-13.5),(5.4,-14.4),(6.1,-15.3),(7,-14.5),(7.5,-12.6),(7.8,-14.1),(6.6,-12.6),(7.2,-15.9),(8,-16),(9,-14.8),(8.8,-15.4),
(.9,10.2),(.9,11.7),(1.9,11.4),(2.1,12.4),(2.7,10.8),(3.6,10.2),(3.9,11.1),(4.3,12.4),(5.4,12.3),(5.1,11.2),(.3,9.7),(1.5,9),(.9,7.8),(2.4,7.5),(3.1,7.8),(3.6,8.7),
(6.7,13.1),(6.9,12.1),(7.6,11.8),(7.9,12.8),(9.4,13.1),(8.7,11.7),(9.4,10.9),(10.3,11.4),(7.5,9.1),(8.8,8.5),(10.4,6.9),(11,9.6),(11,8.5),(10,5.7),(10.6,5.4),
(12.1,11.4),(11.9,10.6),(12.8,10.2),(13.7,10.9),(13.6,9.1),(13,8.1),(14.6,8.5),(15.1,6.6),(3.6,14.2),(5.8,16.8),(4.6,16),(5.4,15.7),(7.3,16.3),(7.8,16.4),(8.7,16.8),(9.1,17),
(1.4,10.8),(2,10.4),(2.3,11.6),(3.2,11.1),(3.1,12.2),(4.7,12.3),(5,12.6),(6.3,12.5),(7.3,12.4),(8.3,12.3),(9,12.1),(1.8,8.4),(.6,8.6),(1.1,8.5),(-.7,6.5),(-1,4.5),(-1.8,5.4),(-2.5,5.8),(-4,5.7),(-1.8,1.6),(-.9,1.6),(-.4,2.1),(.6,2.2),(1,1.8),(1.8,1.2),(.3,3.3),(.4,4.1),(2.5,2.8),(3.3,2.6),(4.5,-1),(5.6,1.2),(6.3,2.3),(6.9,3.3),(-3.2,-.1),(-1.2,-1.7),(-1.2,-3.4),(1,-2.2),(.8,-3.6),(2.4,-1.5),(2.2,-5.9),(1.1,-7.2),(1.7,-8.5),(-8.9,.8),(-8.3,-.6),(-9.9,2.2),(-10,-.6),(-5.5,-9.5),(-4.6,-9.9),(1.8,-12.7),(2.6,-13.8),(3.4,-14),(4,-13.3),(3.6,-15),(4.9,-13.9),(5.8,-14.8),(6.5,-14.9),(6.4,-13),(7.2,-13.3),(7,-12.8),(2.5,-15.4),(1.2,-16.6),(3.9,-16.9),(3.2,-17.3),(9,-15.4),(8.4,-15.3),(11.2,9),(11.3,8),(12.7,9.4),(12.6,10.9),(13.3,10.5)]

P4_RED = [(-11.8,-2),(-11.3,-9),(-11.2,1.8),(-9.6,.6),(-8.1,0),(-9.5,-5.5),(-10.4,5.7),(-8.7,5.7),(-9.5,4.5),(-9.6,3.4),(-9,2.5),(-7.7,2.7),(-8.1,4.5),(-7.2,5.7),(-8.6,8.2),(-8.1,7.5),(-7.5,8.8),
(-6.6,8.2),(-6.6,7.2),(-5.4,9.3),(-5.6,8.1),(-4.5,8.1),(-4.1,8.8),(-5.4,7),(-4.8,6.4),(-6,6.3),(-6.9,5.1),(-6,5.1),(-5.6,10.8),(-4.7,11.8),(-4.4,12.4),(-4.2,10.2),(-3.2,12.5),(-2.6,13),(-2.9,11.4),(-3,9.9),(-1.6,11.7),(-2.1,10.5),(-.6,11.1),(0,10.8),
(-.2,12.9),(.4,13.1),(1.9,13.1),(1.2,12.1),(2.9,13.4),(1.8,15.5),(2.1,14.8),(4.2,13.1),(4.9,13.7),(5.5,13.6),(2.8,12.1),(3.6,11.5),(4.2,11.2),(2.2,9.9),(2.8,9.6),(4.3,9.4),(4.8,9.9),(6.3,9.1),(5.1,8.4),(5.5,7.5),(6.5,7.2),(4.8,6.6),(4,5.8),
(6.3,10.6),(7.5,10.5),(6.6,11.4),(8.7,12.8),(9.6,12.4),(11.2,11.6),(8.8,10),(9.9,10.2),(11,10.2),(9.6,9),(9.6,8.1),(8.4,9),(7.6,8.1),(8.7,7.8),(9.4,7.3),(11.6,7.8),(11.5,6.5),(12.8,6.8),(8.2,6),(12.4,9.6),(12.1,8.8),
(-3.3,8.4),(-2.1,8.8),(-1.2,9.3),(-.6,9.9),(-.3,9),(-.9,8.2),(-1.7,7.8),(-2.1,6.7),(-2.9,6.4),(-4.2,5.1),(-4.8,4.2),(-3.8,4.5),(-2.9,5.1),(-3.3,3.6),(-2.4,3.1),(-3.8,2.7),(-3.6,1.5),
(-6.6,3.6),(-6.6,2.1),(-5.3,2.4),(-6.2,1.2),(-5,1.2),(-6,0),(-5.3,-.3),(-6,-1.1),(-5.4,-1.8),(-7.2,3.9),(-6,3.3),(-7.2,-1.1),(-7.2,-2.1),(-8.1,-2.7),(-7.7,-3.9),(-6.8,-3),(-6.9,-4.5),(-7.8,-4.6),(-7.2,-5.4),(-6,-4.2),(-5.4,-3.3),(-4.8,-4.2),(-3.9,-4.9),(-6.2,-5.1),(-6.9,-6.1),(-5.4,-5.4),(-4.8,-6),(-3.6,-6),(-4.5,-6.9),(-7.6,-7.1),
(-6,-7),(-5.4,-7.8),(-4.2,-7.8),(-4.7,-8.7),(-2.7,-2),(-2.3,-1.8),(-3.3,-2.7),(-3,-3.8),(-2.6,-4.6),(-2.9,-7.2),(-2.1,-8.4),(-3.2,-8.4),(-2.7,-9.3),(-1.7,-9.1),(-.6,-9.4),(-3,-10.2),(-1.8,-10.5),(-.9,-10.5),(.6,-9.9),(.3,-11.1),
(-5.2,-11.3),(-3.9,-11.4),(-2.9,-11.1),(-2.1,-11.5),(-1.2,-11.9),(.6,-12),(2.1,-10.3),(3.1,-9.7),(4.2,-10.2),(3,-11.1),(3.1,-12.4),(3.4,-13),(3.9,-11.1),(5.7,-9.7),(5.4,-10.8),(6.6,-10.5),(6.4,-8.8),(7.6,-9.3),(6.9,-11.4),(6.3,-11.5),(8,-10.8),(8,-11.9),(9.3,-10.3),
(9.1,-12.4),(8.8,-13.2),(5.4,-12.3),(5.4,-13.5),(6.3,-13.8),(-.2,-14.7),(4.2,-14.8),(4.8,-15.4),(5.2,-16.2),(5.8,-17.2),(6.1,-17.8),
(-5.7,5.7),(-5.3,6),(-4.9,7.2),(-5.8,7.5),(-6.1,8.2),(-5.5,9.9),(-6,4.4),(-7,3.2),(-6.3,2.7),(-5.9,1.9),(-5.7,.8),(-5.5,.3),(-6.5,-.5),(-6.7,-1.6),(-5.7,-1.3),(-7.5,-2.4),(-7.3,-3.3),(-6.3,-3.6),(-6.5,-2.5),(-5.7,-3.9),(-5.2,-4.8),(-6.7,-5.5),(-6.3,-6.2),(-5.6,-6.5),(-5.2,-6.9),(-4.4,-5.5),(-4.2,-6.5),(-5.7,-8.2),(-5,-7.5),(-4.2,-8.4),(-3.4,-7.7),(-2.4,-7.8),(-3.2,-9),(-2.3,-9),(-2.5,-10),(-1.4,-9.6),(-2.5,-10.8),(-1.4,-10.2),(-3.5,-11.1),(-.9,-11.5),(.3,-10.4),(1,-10),(.4,-12.2),(2.7,-10),(3.6,-9.9),(2.6,-10.7),(4.7,-10.3),(3.8,-10.7),(5,-11.2),(6,-10.2),(6,-11),(7,-9.2),(7,-10.8),(7.2,-10.1),(7.6,-10.9),(6.8,-12),(4,-12),(-3.3,10.5),(-2.5,11.9),(-2.5,9.4),(-1.5,9.9),(-1.1,10.5),(-.6,10.4),(-4.1,9.4),(-3.7,10),(-4.6,9),(-5,8.6),(9.1,8.5),(9.2,9.6),(10.4,10.2),(9.4,10.2),(-3.8,3.6),(-4.6,3.4),(-4.2,4.2),(-3.3,4.6),(-3.4,5.2),(-2.8,4.3),(-1.5,8.6),(-2.7,8.6),(-2.5,7.6),(-1.7,9.2)]

P5_BLUE = [(-4.2,-7.7),(-3.9,-9),(-3.6,-9.1),(-3.6,-5.8),(-3.8,-6.8),(-3.6,-7.5),(-3.2,-8.2),(-2.8,-9),(-2.4,-9.3),(-1.9,-9.6),(-1.4,-10),(-1,-9.6),(-.9,-8.7),(-2.9,-5.4),(-3,-6.3),(-2.7,-6.8),(-2.2,-6.3),(-1.9,-7),(-2.5,-7.8),(-2,-8),(-1.6,-7.3),(-1.4,-8.5),(-1.1,-7.8),(-.5,-7.8),(-2,-5.1),(-2,-4.4),
(-2.9,-4.2),(-2.4,-4.3),(-1.7,-4),(-1.2,-3.8),(-.7,-3.6),(-.95,-4.9),(-1,-5.7),(-1.4,-6.3),(-.5,-4.5),(-.2,-5.5),(0,-3.1),(.3,-2.8),(.2,-3.9),(.3,-4.9),(.8,-4.9),(.8,-6.1),(.1,-6.2),(0,-7.2),(.5,-7.5),(1.2,-6.8),(1.1,-3.9),(1.7,-3.2),(1.5,-4.8),(-.6,-6.5),(-2.3,-8.7),(-3,-7.2),
(2.3,-2.7),(2.2,-3.7),(2.9,-3.4),(3.4,-2.5),(3.6,-3.2),(4.6,-2.5),(4.4,-3.4),(5.1,-3.2),(5.6,-2.8),(6.1,-3.3),(6.5,-3.7),(7.2,-3.4),(7.5,-3.9),(2.3,-4.4),(2.9,-4.4),(3.6,-4.2),(4.2,-4.3),(4.8,-4.2),(5.4,-4.2),(6.1,-4.2),(6.8,-3.9),(7.4,-4.6),
(2.2,-5.5),(2.8,-5.6),(3.4,-5.6),(4,-5.4),(5,-6),(5.6,-5.7),(6.4,-5.4),(6.8,-4.9),(7.2,-6.2),(1.8,-6.6),(2.3,-6.6),(2.9,-6.7),(3.6,-6.6),(4.7,-6.8),(5.4,-7.3),(6.4,-6.3),(1.9,-8.1),(2.3,-7.8),(2.8,-8.5),(3.7,-7.8),(4.8,-7.6),(5.8,-8),(6.5,-7.5),(6.5,-8.4),
(3.3,-9.1),(4.5,-8.8),(4.8,-8.5),(5.4,-9.1),(6,-8.8),(3.7,-9.7),(4.4,-9.7),(4.7,-10.2),(6,-9.9),(6.5,-10.2),(7.1,-9.4),(5.4,-10.5),(1.5,-10.2),(1.2,-10.4),(1.2,-11.2),(1.3,-11.7),(3.2,-10.8),(3.6,-11.1),(4.3,-10.6),(5,-10.9),(3,-12.1),(3.7,-11.7),(4.2,-11.7),(5.4,-11.8),
(2.5,-12.8),(3.2,-12.7),(3.7,-13),(4.2,-12.9),(4.7,-13.2),(5.1,-12.9),(5.8,-12.8),(3.3,-8.6),(2.9,-7.6),(3.4,-11.5),(4.6,-12.3),(6.5,-5),(5,-7.1),
(-2.7,-8.1),(-3.2,-7),(-2.8,-5.9),(-2.4,-5.5),(-1.5,-8),(-1.9,-8.6),(-1.7,-9),(-1.2,-9),(-2.4,-7),(-2.9,-7.6),(-3.3,-8.8),(-1.3,-5),(-1.4,-4.7),(.4,-3.4),(-.4,-5),(.4,-5.5),(.7,-4.4),(1.3,-4.4),(2.6,-3.1),(2.6,-4),(3.2,-4),(3.3,-3.5),(3.9,-3.7),(4.3,-3.8),(4.7,-3.6),(5.5,-3.7),(5.8,-3.6),(6.2,-3.8),(6.8,-3.5),(7.1,-4),(2.5,-5),(3,-5),(3.6,-5),(4.1,-4.9),(5.2,-5),(5.8,-5),(6.2,-5.2),(7.1,-5.1),(1.9,-7.2),(2.6,-7.2),(3.2,-6.2),(3,-7),(3.4,-7.4),(3.9,-7),(4.2,-7.6),(2.4,-8.2),(3.5,-8.7),(2.6,-6.2),(4.5,-8),(4.8,-7.1),(5.2,-6.5),(5.9,-6.5),(6,-7.5),(6.2,-8.3),(6.2,-9.5),(3.5,-10.3),(4,-10.2),(4.2,-11),(4.6,-11.3),(5.1,-11.4),(3.2,-11.7),(2.9,-12.5),(3.7,-12.4),(4.2,-12.3),(5,-12.3),(5.6,-12.5),(6.7,-9.9),(5.1,-10.3),(3.9,-9.3)]

P5_RED = [(-4.3,14.7),(-3.9,14),(-3.8,13.5),(-6.6,12.4),(-5.1,13.4),(-4.7,13.6),(-5,12.7),(-4.7,12.8),(-4.9,12.1),(-5.8,11.8),(-3.8,12.5),(-3.4,12.3),(-2.9,12.2),(-2.8,11.6),(-2,11.3),(-7.5,10.9),(-7.5,10.3),(-7.1,10.1),(-6.7,9.9),
(-6.1,10.5),(-5.6,11.1),(-5.2,11.3),(-4.7,11.2),(-4.2,11.3),(-3.8,11.5),(-3.3,11.2),(-5.5,10.3),(-4.9,10.5),(-4.4,10.4),(-3.9,10.5),(-3.4,10.3),(-2.8,10.5),(-2.4,10.5),(-5.2,9.7),(-4.7,9.5),(-4.2,9.5),(-3.8,9.4),(-5.6,9.1),(-4.4,8.8),(-3.9,8.6),(-4.8,8.6),(-5.2,8.6),
(-7.7,8.9),(-7.1,8.9),(-7.2,8.2),(-7.3,7.1),(-7.2,6.7),(-6.2,8.9),(-6.4,8),(-6.7,7.1),(-5.9,7.4),(-5.3,7.9),(-5,7.1),(-4.5,6.7),(-4.1,7.1),(-3.7,7.5),(-3.4,8.2),(-5.3,6.3),(-6.1,6.2),(-5.8,5.5),(-5.7,4.9),(-5.3,4.7),(-4.8,4.3),(-4.5,3.9),
(-3.8,6.3),(-4.2,5.7),(-4.6,5.1),(-4.4,4.6),(-3.7,5.4),(-1.9,9.7),(-1.4,10),(-1,11),(-1.7,11),(-1,9.7),(-1.1,9.1),(-2.5,8.8),(-2.2,9.3),(-.2,9.5),(.2,9.8),(.2,8.5),(.5,7.7),(.7,10.3),(1.2,10.4),(1.5,10.3),(1.1,9.2),(1.5,9.7),(2,9.7),(2.6,9.3),(3,8.8),(1.4,8.2),(1.4,7.4),(.6,9.5),
(2.1,8.6),(2.5,8.2),(2.2,7.3),(2.4,6.4),(2.8,7.6),(3.3,7.6),(3.4,6.7),(3.7,7.6),(4.3,7.6),(3.5,5.9),(4,6.4),(4.4,6.2),(4,7.1),(4.9,7.3),(5.1,7.1),(4.7,5.3),(4.4,5),(4,4.6),(4.2,4.3),(-8.1,4.9),
(-5.1,3.3),(-4.7,3),(-4.2,3),(-5,2.4),(-4.5,2.3),(-4.1,2.1),(-4.9,1.6),(-4.4,1.6),(-3.9,3.8),(-3.3,3.5),(-2.7,3.3),(-2,2.9),(-1.4,3.1),(-.9,3.3),(-1.4,2.3),(-.95,2.6),(-1.3,1.7),(-.7,3.1),(-2.4,2.1),(-2.4,1.4),(-3.1,1.4),(-3.7,1.4),
(-5.3,.9),(-4.9,.7),(-4.3,.9),(-1.3,.7),(-1.1,.2),(1.6,3.2),(0,1.2),(-4.2,-.4),(-3.3,-.7),(-4,-.5),(-3.4,-.9),
(-5.9,9.9),(-5.4,9.4),(-4.9,9.9),(-4.4,9.9),(-3.9,9.9),(-3.4,9.6),(-3,10),(-4.7,10.9),(-4.2,10.8),(-3.6,10.9),(-5.1,10.8),(-6,8.4),(-5.7,8.3),(-4.9,8.1),(-4.5,8.2),(-4,8),(-4.3,7.6),(-4.7,7.5),(-5.4,8.5),(-6.6,8.5),(-6.9,7.7),(-7.4,7.6),(-7.3,9.5),(-6.5,7.5),(-6.5,10.2),(-3,11.7),(-3.3,12),(-2.5,11.8),(-2.3,11.1),(-2.1,10.2),(-1.5,10.5),(-1.3,11),(-1.4,9.3),(-2,9.1),(-2.9,9.7),(-4.7,13),(-4.4,13.2),(-5.2,12.9),(-5.1,12.3),(-5.9,5.9),(-6,5.2),(-5.5,5),(-5,4.8),(-5.1,4.5),(-4.5,4.2),(-4.3,5.5),(-4,6),(-4.3,6.9),(-3.8,6.8),(-3.7,7.9),(-.5,10),(0,9.1),(-.1,8.9),(.9,10),(1.7,9.1),(1.9,8.9),(2.2,9.2),(2.3,8.1),(2.6,7.8),(2.5,7),(2.7,6.4),(3,7.6),(3.5,7.2),(3.2,7),(3.8,6.6),(3.3,6.2),(3.7,6.2),(4.1,5.8),(4.5,5.6),(4.4,4.7),(3.9,7.7),(4.2,6.9),
(-5,3),(-4.8,2),(-4.4,2.7),(-5.2,2.7),(-4.1,1.7),(-3.6,3.6),(-3,3.4),(-2.4,3),(-1.7,3),(-1.2,3.3),(-1.1,2.9),(-1.6,2.6),(-1.7,2.1),(-1,2.1),(-1.2,2.3)]

P6_BLUE = [(17.3,7.9),(16.8,8.3),(16.1,8.6),(15.2,8.8),(14.4,8.75),(13.7,8.5),(13,8.15),(12.66,7.7),(12.5,7.25),(12.4,6.8),(12.3,6.35),(12.25,5.9),(12.3,5.4),(12.4,5),(12.5,4.5),(12.66,4.05),(13,3.6),(13.35,3.15),(13.86,2.7),(14.55,2.3),(15.2,2.1),
(17.1,7.75),(16.45,8.15),(15.2,8.5),(14,8.4),(13.35,7.9),(13,7.4),(12.8,6.8),(12.7,6.1),(12.7,5.4),(12.8,4.75),(13.1,4.05),(13.5,3.4),(14.2,2.8),(15.1,2.4),(15.9,2.2),
(16.6,2.4),(17.3,3.15),(18,3.15),(18.3,2.7),(18.4,2.4),(18.15,2),(17.6,1.7),(17,1.95),(17.1,2.7),(17.65,2.55),(16.45,2.1),(17.6,7.3),(18.2,7.25),(18,6.85),(18.5,6.65),(18.85,6.3),(18.85,5.9),(18.3,6.25),(14.4,-.25),(14.9,0),(14.7,-.45),
(17,8.1),(16.4,8.5),(15.6,8.7),(14.8,8.8),(14,8.65),(13.3,8.3),(12.8,7.9),(12.55,7.45),(12.45,7),(12.35,6.55),(12.28,6.1),(12.28,5.65),(12.35,5.2),(12.45,4.75),(12.55,4.3),(12.8,3.85),(13.2,3.35),(13.6,2.9),(14.2,2.5),(14.9,2.2),(15.6,2.1),(16.1,2.2),(15.7,8.4),(14.6,8.45),(13.65,8.15),(13.15,7.65),(12.9,7.1),(12.75,6.45),(12.7,5.75),(12.75,5.05),(12.95,4.4),(13.3,3.7),(13.85,3.1),(14.65,2.6),(15.5,2.35),(16.2,2.4),(16.9,3.1),(17.6,3.3),(17.8,2.9),(18.2,3),(17.8,2.2),(17.3,2.2),(17.1,1.75),(16.8,2.7),(18.4,2.1),(17.5,7.5),(17.85,7.2),(18.25,6.85),(18.7,6.5),(18.6,6.1),(18.55,5.85),(18.9,6.1)]

P6_RED = [(-10.9,-2),(-11.6,-1.8),(-12.4,-1.6),(-13.1,-1.75),(-13.7,-2.15),(-14.2,-2.6),(-14.4,-3.05),(-14.55,-3.65),(-14.6,-4.25),(-14.7,-4.85),(-14.7,-5.45),(-14.6,-6.05),(-14.4,-6.65),(-14.15,-7.25),(-13.7,-7.9),(-13.2,-8.5),(-12.5,-8.95),
(-12.4,-1.9),(-13.3,-2.35),(-13.7,-2.9),(-14.1,-3.5),(-14.2,-4.2),(-14.25,-4.85),(-14.2,-5.55),(-14.05,-6.2),(-13.8,-7),(-13.4,-7.65),(-12.85,-8.35),(-12.25,-8.7),
(-11.6,-8.7),(-10.9,-8.5),(-10,-8.5),(-9.35,-8.6),(-8.8,-8.35),(-8.5,-8.05),(-11.6,-8.5),(-10.4,-8.7),(-7.95,-7.2),(-7.6,-7.35),
(-11.4,-4.1),(-11.55,-3.9),(-11,-4.5),(-10.2,-5.3),(-10.35,-4.85),(-10.9,-5),(-9.7,-5),(-8.65,-5),(-8.1,-4.6),(-8.1,-4.2),(-8.45,-3.65),(-9.15,-3.4),(-9.7,-3.8),(-10,-4.3),(-9,-4.3),(-9.15,-4.8),(-8.8,-3.9),
(-11.25,-1.9),(-12,-1.7),(-12.8,-1.65),(-13.4,-1.95),(-13.95,-2.35),(-14.3,-2.8),(-14.5,-3.35),(-14.6,-3.95),(-14.65,-4.55),(-14.7,-5.15),(-14.65,-5.75),(-14.5,-6.35),(-14.3,-6.95),(-13.95,-7.55),(-13.45,-8.2),(-12.85,-8.75),(-12.1,-8.9),(-12.85,-2.1),(-13.5,-2.6),(-13.9,-3.2),(-14.15,-3.85),(-14.2,-4.5),(-14.25,-5.2),(-14.15,-5.9),(-13.95,-6.6),(-13.6,-7.35),(-13.15,-8),(-12.55,-8.5),(-11.9,-8.8),(-11.25,-8.6),(-10.5,-8.45),(-9.7,-8.55),(-9.05,-8.5),(-8.65,-8.2),(-11.2,-1.95),
(-11.2,-4.3),(-10.7,-4.7),(-10.5,-5.1),(-10.1,-4.8),(-9.6,-4.5),(-9.4,-4.1),(-9.5,-3.5),(-9.2,-3.8),(-8.5,-4.3),(-8.4,-4.8),(-8.9,-4.6),(-9.4,-5.1),(-8.35,-4),(-8.7,-3.5),(-9.9,-4.8)]

SERIES = [(P1_BLUE, P1_RED), (P2_BLUE, P2_RED), (P3_BLUE, P3_RED),
          (P4_BLUE, P4_RED), (P5_BLUE, P5_RED), (P6_BLUE, P6_RED)]
XLIMS = [(-17.6, 18.6), (-22.4, 25.9), (-26.9, 26.3), (-16.5, 16.7), (-8.87, 8.42), (-16.06, 20.56)]
YLIMS = [(-19.2, 18.85), (-28.6, 24.3), (-29.4, 31.5), (-19.6, 18.5), (-14.6, 16.0), (-9.77, 9.52)]
XTICKS = [[-15,-10,-5,0,5,10,15], [-20,-10,0,10,20], [-20,-10,0,10,20], [-15,-10,-5,0,5,10,15],
          [-7.5,-5,-2.5,0,2.5,5,7.5], [-15,-10,-5,0,5,10,15,20]]
YTICKS = [[-15,-10,-5,0,5,10,15], [-20,-10,0,10,20], [-20,-10,0,10,20,30], [-15,-10,-5,0,5,10,15],
          [-10,-5,0,5,10,15], [-7.5,-5,-2.5,0,2.5,5,7.5]]
XFMT = ["{:g}", "{:g}", "{:g}", "{:g}", "{:.1f}", "{:g}"]
YFMT = ["{:g}", "{:g}", "{:g}", "{:g}", "{:g}", "{:.1f}"]
CBAR_TICKS = [0.0, 0.2, 0.4, 0.6, 0.8, 1.0]

W, H = 1946, 1008
AX_X = [(48.6, 501.2), (726.5, 1179), (1405, 1857.7)]
CB_X = [(528.6, 551), (1206.5, 1229.4), (1884.5, 1907)]
AX_Y = [(9, 434), (520, 945)]

cmap = ListedColormap(CLASS_COLORS)
norm = Normalize(0, 1)
fig = plt.figure(figsize=(W / 100, H / 100), dpi=100)

def minus(s):
    return s.replace("-", "\u2212")

for i, (blue, red) in enumerate(SERIES):
    r, c = i // 3, i % 3
    x0, x1 = AX_X[c]
    y0, y1 = AX_Y[r]
    ax = fig.add_axes([x0 / W, 1 - y1 / H, (x1 - x0) / W, (y1 - y0) / H])
    pts = np.array(blue + red, dtype=float)
    labels = np.array([0] * len(blue) + [1] * len(red))
    ax.scatter(pts[:, 0], pts[:, 1], c=labels, cmap=cmap, norm=norm, s=90, linewidths=0)
    ax.set_xlim(XLIMS[i])
    ax.set_ylim(YLIMS[i])
    ax.set_xticks(XTICKS[i])
    ax.set_yticks(YTICKS[i])
    ax.set_xticklabels([minus(XFMT[i].format(v)) for v in XTICKS[i]])
    ax.set_yticklabels([minus(YFMT[i].format(v)) for v in YTICKS[i]])
    ax.tick_params(labelsize=10.5, length=3.5, width=0.8, colors="#222222")
    ax.set_xlabel(TITLES[i], fontsize=19.5, labelpad=2, color="#111111")
    for s in ax.spines.values():
        s.set_linewidth(1.1)
        s.set_color("#333333")
    cx0, cx1 = CB_X[c]
    cax = fig.add_axes([cx0 / W, 1 - y1 / H, (cx1 - cx0) / W, (y1 - y0) / H])
    cb = fig.colorbar(ScalarMappable(norm=norm, cmap=cmap), cax=cax)
    cb.set_ticks(CBAR_TICKS)
    cb.ax.tick_params(labelsize=10.5, length=3.5, width=0.8, colors="#222222")
    cb.outline.set_linewidth(0.9)

fig.savefig("out.png", dpi=100)
